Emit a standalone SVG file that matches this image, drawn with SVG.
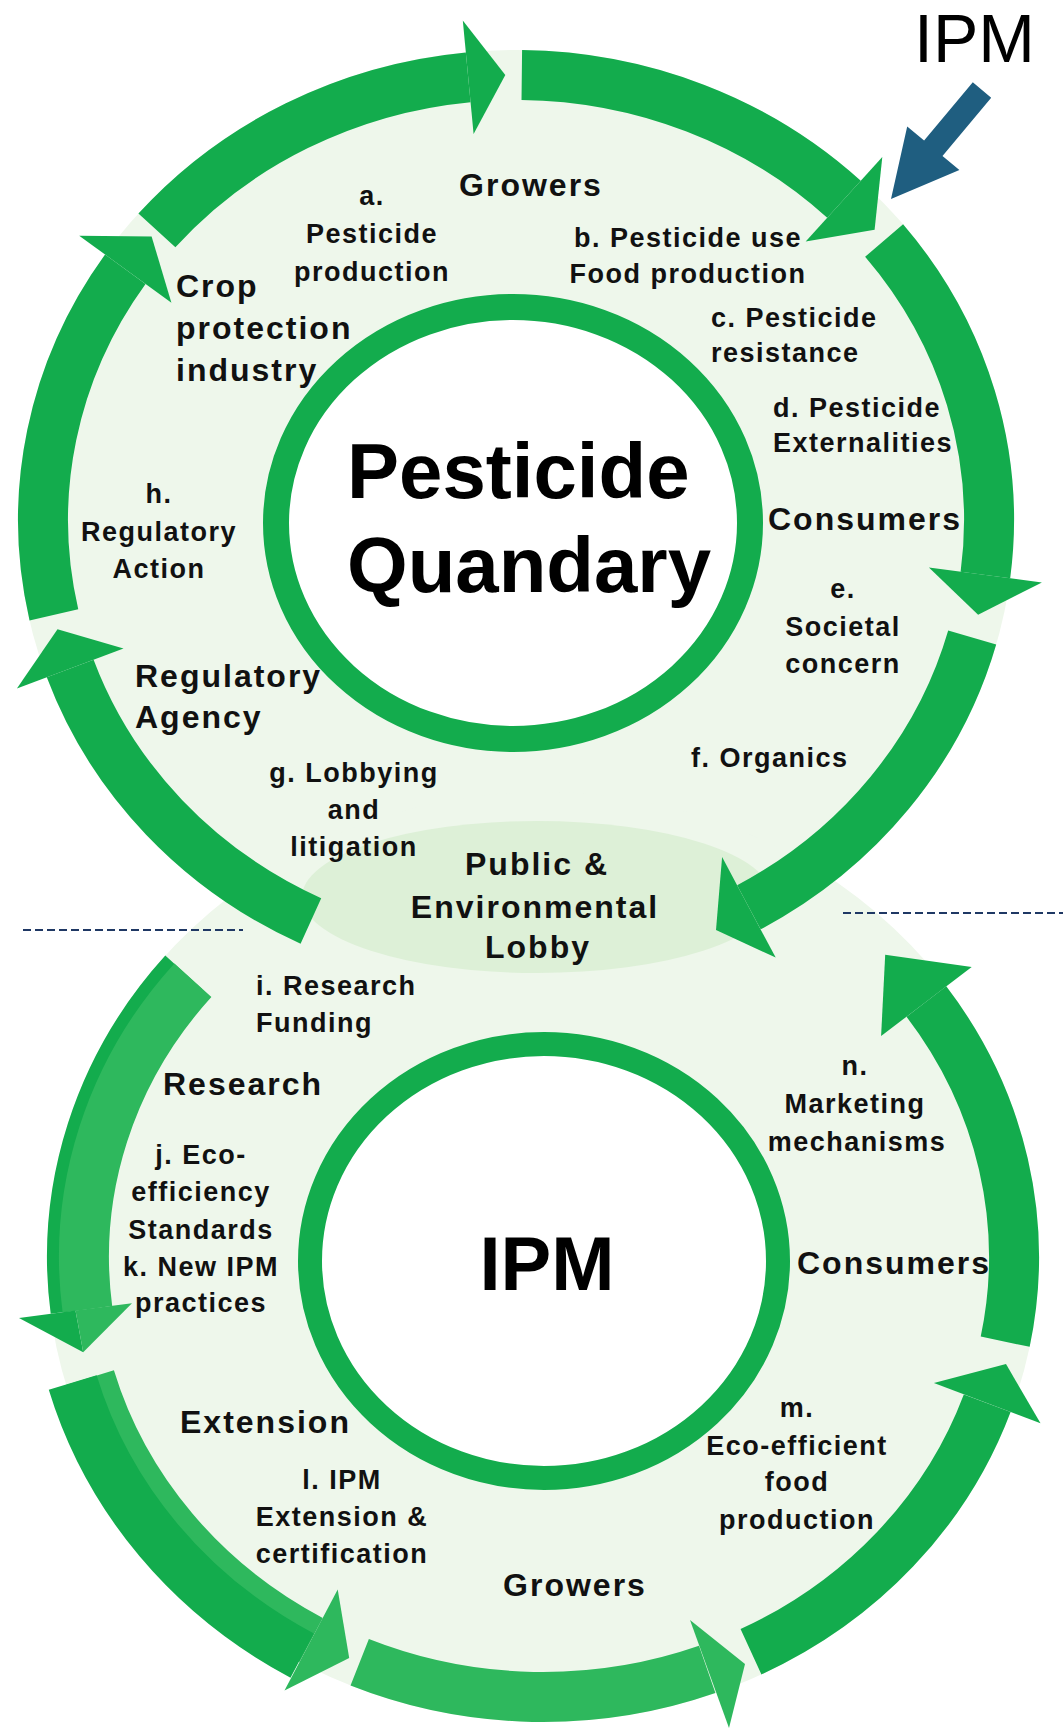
<svg xmlns="http://www.w3.org/2000/svg" width="1063" height="1734" viewBox="0 0 1063 1734">
<style>
.maj{font-family:"Liberation Sans",Arial,sans-serif;font-weight:bold;font-size:32px;letter-spacing:2px;fill:#111}
.min{font-family:"Liberation Sans",Arial,sans-serif;font-weight:bold;font-size:27px;letter-spacing:1.5px;fill:#111}
.big{font-family:"Liberation Sans",Arial,sans-serif;font-weight:bold;font-size:78px;fill:#000}
.mid{text-anchor:middle}
.body{fill:none;stroke:#13AC4D;stroke-width:50;stroke-linecap:butt}
.head{fill:#13AC4D}
.lt{stroke:#2EB85D}
.ltf{fill:#2EB85D}
.inner{fill:#fff;stroke:#13AC4D}
.dash{stroke:#1F3864;stroke-width:2;stroke-dasharray:8 4}
</style>
<rect width="1063" height="1734" fill="#fff"/>
<g id="background">
<ellipse cx="516" cy="520" rx="498" ry="470" fill="#EEF7EB"/>
<ellipse cx="543" cy="1257" rx="496" ry="465" fill="#EEF7EB"/>
<ellipse cx="537" cy="897" rx="235" ry="76" fill="#DDF0D7"/>
<line class="dash" x1="23" y1="930" x2="243" y2="930"/>
<line class="dash" x1="843" y1="913" x2="1063" y2="913"/>
</g>
<g id="connectors">
<path class="body" d="M156.9 230.4 A473 445 0 0 1 468.2 77.3"/>
<polygon class="head" points="462.8,20.6 505.3,75.1 473.6,134.0"/>
<path class="body" d="M521.8 75.0 A473 445 0 0 1 844.0 199.3"/>
<polygon class="head" points="882.3,157.1 874.6,229.8 805.7,241.5"/>
<path class="body" d="M884.1 240.5 A473 445 0 0 1 985.4 575.0"/>
<polygon class="head" points="1041.9,582.5 978.1,614.8 928.9,567.5"/>
<path class="body" d="M972.2 637.4 A473 445 0 0 1 748.9 907.3"/>
<polygon class="head" points="775.7,957.6 716,930 722.1,857.0"/>
<path class="body" d="M310.9 921.0 A473 445 0 0 1 70.2 668.5"/>
<polygon class="head" points="16.9,688.6 57.5,629.2 123.5,648.4"/>
<path class="body" d="M53.9 614.8 A473 445 0 0 1 125.3 269.2"/>
<polygon class="head" points="79.2,235.7 151.6,236.4 171.4,302.7"/>
<polygon fill="#1F5E80" points="972.8,82.3 991.2,97.7 942.5,156.0 959.4,170.1 891,199 907.2,126.5 924.1,140.6"/>
<path class="body" d="M183.8 972.4 A471 440 0 0 0 75.5 1310.6"/>
<path class="body lt" stroke-width="26" d="M192.9 980.2 A459 428 0 0 0 87.4 1309.2"/>
<polygon class="head" points="19.0,1318.0 83.2,1352.2 75.5,1310.6"/>
<polygon class="ltf" points="75.5,1310.6 83.2,1352.2 132.0,1303.2"/>
<path class="body lt" d="M90.0 1377.6 A471 440 0 0 0 311.1 1640.0"/>
<path class="body" stroke-width="14" d="M72.7 1382.5 A489 458 0 0 0 302.2 1655.6"/>
<polygon class="ltf" points="284.5,1690.4 349.2,1658.0 337.7,1589.6"/>
<path class="body lt" d="M359.7 1662.3 A471 440 0 0 0 707.2 1669.4"/>
<polygon class="ltf" points="729,1728 745,1664 690,1620"/>
<path class="body" d="M751.0 1651.8 A471 440 0 0 0 987.2 1403.2"/>
<polygon class="head" points="1040.5,1423.3 1006,1364 933.9,1383.1"/>
<path class="body" d="M1005.2 1341.7 A471 440 0 0 0 926.4 1001.5"/>
<polygon class="head" points="971.7,966.9 885.2,954.7 881.1,1036.1"/>
</g>
<g id="pesticide-quandary">
<ellipse class="inner" cx="513" cy="523" rx="237" ry="216" stroke-width="26"/>
<text class="big" x="347" y="498">Pesticide</text>
<text class="big" x="347" y="592">Quandary</text>
</g>
<g id="ipm-core">
<ellipse class="inner" cx="544" cy="1261" rx="234" ry="217" stroke-width="24"/>
<text class="big mid" x="547" y="1290" style="font-size:76px">IPM</text>
</g>
<g id="ipm-entry">
<text x="914" y="62" style="font-family:'Liberation Sans',Arial,sans-serif;font-size:68px;fill:#000">IPM</text>
</g>
<g id="growers-top"><text class="maj mid" x="531" y="196">Growers</text></g>
<g id="label-a"><text class="min mid" x="372" y="205">a.</text><text class="min mid" x="372" y="243">Pesticide</text><text class="min mid" x="372" y="281">production</text></g>
<g id="label-b"><text class="min mid" x="688" y="247">b. Pesticide use</text><text class="min mid" x="688" y="283">Food production</text></g>
<g id="label-c"><text class="min" x="711" y="327">c. Pesticide</text><text class="min" x="711" y="362">resistance</text></g>
<g id="label-d"><text class="min" x="773" y="417">d. Pesticide</text><text class="min" x="773" y="452">Externalities</text></g>
<g id="consumers-top"><text class="maj" x="768" y="530">Consumers</text></g>
<g id="crop-protection"><text class="maj" x="176" y="297">Crop</text><text class="maj" x="176" y="339">protection</text><text class="maj" x="176" y="381">industry</text></g>
<g id="label-h"><text class="min mid" x="159" y="503">h.</text><text class="min mid" x="159" y="541">Regulatory</text><text class="min mid" x="159" y="578">Action</text></g>
<g id="label-e"><text class="min mid" x="843" y="598">e.</text><text class="min mid" x="843" y="636">Societal</text><text class="min mid" x="843" y="673">concern</text></g>
<g id="label-f"><text class="min" x="691" y="767">f. Organics</text></g>
<g id="regulatory-agency"><text class="maj" x="135" y="687">Regulatory</text><text class="maj" x="135" y="728">Agency</text></g>
<g id="label-g"><text class="min mid" x="354" y="782">g. Lobbying</text><text class="min mid" x="354" y="819">and</text><text class="min mid" x="354" y="856">litigation</text></g>
<g id="public-lobby"><text class="maj mid" x="537" y="875">Public &amp;</text><text class="maj mid" x="535" y="918">Environmental</text><text class="maj mid" x="538" y="958">Lobby</text></g>
<g id="label-i"><text class="min" x="256" y="995">i. Research</text><text class="min" x="256" y="1032">Funding</text></g>
<g id="research"><text class="maj" x="163" y="1095">Research</text></g>
<g id="label-jk"><text class="min mid" x="201" y="1164">j. Eco-</text><text class="min mid" x="201" y="1201">efficiency</text><text class="min mid" x="201" y="1239">Standards</text><text class="min mid" x="201" y="1276">k. New IPM</text><text class="min mid" x="201" y="1312">practices</text></g>
<g id="label-n"><text class="min mid" x="855" y="1075">n.</text><text class="min mid" x="855" y="1113">Marketing</text><text class="min mid" x="857" y="1151">mechanisms</text></g>
<g id="consumers-bottom"><text class="maj" x="797" y="1274">Consumers</text></g>
<g id="extension"><text class="maj" x="180" y="1433">Extension</text></g>
<g id="label-l"><text class="min mid" x="342" y="1489">l. IPM</text><text class="min mid" x="342" y="1526">Extension &amp;</text><text class="min mid" x="342" y="1563">certification</text></g>
<g id="label-m"><text class="min mid" x="797" y="1417">m.</text><text class="min mid" x="797" y="1455">Eco-efficient</text><text class="min mid" x="797" y="1491">food</text><text class="min mid" x="797" y="1529">production</text></g>
<g id="growers-bottom"><text class="maj mid" x="575" y="1596">Growers</text></g>
</svg>
